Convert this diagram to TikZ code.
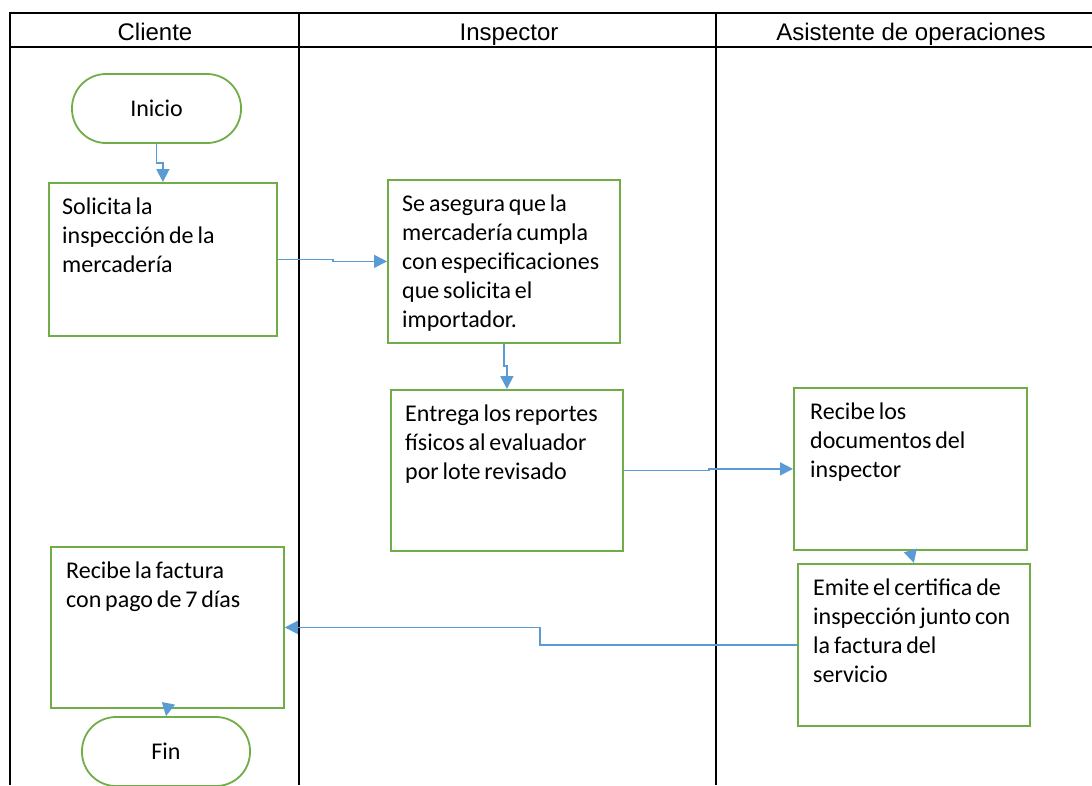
\documentclass[tikz,border=0pt]{standalone}
\usepackage{fontspec}
\setmainfont{Carlito}
\newfontfamily\headfont{Liberation Sans}
\usetikzlibrary{arrows.meta}
\definecolor{boxgreen}{RGB}{112,173,71}
\definecolor{arrblue}{RGB}{91,155,213}
\newcommand{\boxfont}{\fontsize{24}{29}\selectfont\spaceskip=0.16em plus 0.05em minus 0.05em\relax}
\newcommand{\firstln}{\rule{0pt}{18pt}}
\tikzset{
  lane/.style={line width=2.6pt, black},
  boxnode/.style={draw=boxgreen, line width=1.8pt, rectangle, inner sep=0pt, anchor=north west},
  term/.style={draw=boxgreen, line width=1.8pt, rectangle, rounded corners=34pt, inner sep=0pt,
     font=\fontsize{24}{28}\selectfont},
  boxtext/.style={anchor=north west, inner sep=0pt, align=left, font=\boxfont},
  head/.style={anchor=base, inner sep=0pt, font=\headfont\fontsize{24}{28}\selectfont},
  arr/.style={draw=arrblue, line width=1.7pt, -{Triangle[length=13pt,width=13pt]}}
}
\begin{document}
\begin{tikzpicture}[x=1pt,y=-1pt]
\useasboundingbox (0,0) rectangle (1092,785);
% swimlane frame
\draw[lane] (10,785) -- (10,13) -- (1095,13);
\draw[lane] (10,47) -- (1095,47);
\draw[lane] (299,13) -- (299,785);
\draw[lane] (716,13) -- (716,785);
\node[head] (hcli) at (155,40) {Cliente};
\node[head] (hins) at (509,40) {Inspector};
\node[head] (hasi) at (911,40) {Asistente de operaciones};
% terminals
\node[term, minimum width=169pt, minimum height=69pt] (inicio) at (156.5,108.5) {Inicio};
\node[term, minimum width=168pt, minimum height=69pt] (fin) at (166,751.5) {Fin};
% process boxes (text baseline of first line 32pt below top)
\node[boxnode, minimum width=228pt, minimum height=153pt] (solicita) at (48,182) {};
\node[boxtext] (tsolicita) at (62,196) {\firstln Solicita la\\inspección de la\\mercadería};
\node[boxnode, minimum width=232pt, minimum height=163pt] (asegura) at (387,179) {};
\node[boxtext] (tasegura) at (402,193) {\firstln Se asegura que la\\mercadería cumpla\\con especificaciones\\que solicita el\\importador.};
\node[boxnode, minimum width=232pt, minimum height=161pt] (entrega) at (390,389) {};
\node[boxtext] (tentrega) at (405,403) {\firstln Entrega los reportes\\físicos al evaluador\\por lote revisado};
\node[boxnode, minimum width=233pt, minimum height=162pt] (recibe) at (793,387) {};
\node[boxtext] (trecibe) at (810,401) {\firstln Recibe los\\documentos del\\inspector};
\node[boxnode, minimum width=232pt, minimum height=162pt] (emite) at (797,563) {};
\node[boxtext] (temite) at (813,577) {\firstln Emite el certifica de\\inspección junto con\\la factura del\\servicio};
\node[boxnode, minimum width=233pt, minimum height=161pt] (factura) at (50,546) {};
\node[boxtext] (tfactura) at (66,560) {\firstln Recibe la factura\\con pago de 7 días};
% connectors
\draw[arr] (inicio.south) -- ++(0,19) -| (solicita.north);
\draw[arr] (solicita.east) -- ++(55,0) |- (asegura.west);
\draw[arr] (asegura.south) -- ++(0,22) -| (entrega.north);
\draw[arr] (entrega.east) -- ++(85,0) |- (recibe.west);
\draw[arr] (recibe.south) -- (emite.north);
\draw[arr] (emite.west) -- ++(-257,0) |- (factura.east);
\draw[arr] (factura.south) -- (fin.north);
\end{tikzpicture}
\end{document}
